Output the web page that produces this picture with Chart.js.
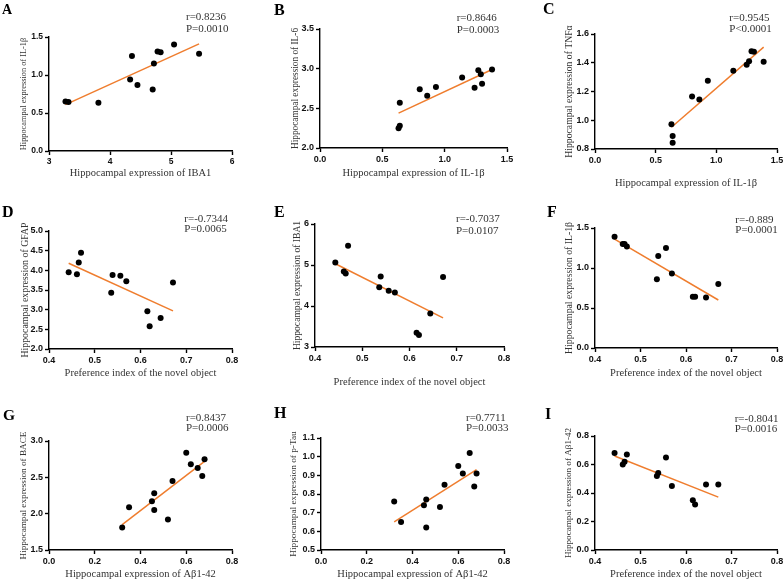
<!DOCTYPE html>
<html>
<head>
<meta charset="utf-8">
<script src="https://cdn.jsdelivr.net/npm/chart.js@4.4.1/dist/chart.umd.min.js"></script>
<style>
    html, body { margin: 0; padding: 0; background: #fff; width: 783px; height: 579px; overflow: hidden; }
    .panel { position: absolute; }
</style>
</head>
<body>
<script>
( function () {
    'use strict';

    /* ── shared x values ─────────────────────────────────────────────── */
    var prefIndex = [ 0.443, 0.461, 0.465, 0.470, 0.536, 0.539, 0.556, 0.569, 0.615, 0.620, 0.644, 0.671 ];
    var abeta     = [ 0.32, 0.35, 0.45, 0.46, 0.46, 0.52, 0.54, 0.60, 0.62, 0.65, 0.67, 0.68 ];

    /* ── A: IL-1β vs IBA1 ─────────────────────────────────────────────── */
    var aIBA1   = [ 3.27, 3.32, 3.81, 4.33, 4.36, 4.45, 4.70, 4.72, 4.78, 4.83, 5.05, 5.46 ];
    var aIL1b   = [ 0.65, 0.645, 0.636, 0.94, 1.25, 0.87, 0.81, 1.15, 1.31, 1.30, 1.40, 1.28 ];
    var aFitX   = [ 3.27, 5.46 ];
    var aFitY   = [ 0.61, 1.41 ];
    var aXTicks = [ 3, 4, 5, 6 ];
    var aYTicks = [ 0, 0.5, 1.0, 1.5 ];

    /* ── B: IL-6 vs IL-1β ─────────────────────────────────────────────── */
    var bIL1b   = [ 0.63, 0.64, 0.64, 0.80, 0.86, 0.93, 1.14, 1.24, 1.27, 1.29, 1.30, 1.38 ];
    var bIL6    = [ 2.25, 2.28, 2.57, 2.74, 2.66, 2.77, 2.89, 2.76, 2.98, 2.93, 2.81, 2.99 ];
    var bFitX   = [ 0.63, 1.38 ];
    var bFitY   = [ 2.44, 2.99 ];
    var bXTicks = [ 0, 0.5, 1.0, 1.5 ];
    var bYTicks = [ 2.0, 2.5, 3.0, 3.5 ];

    /* ── C: TNFα vs IL-1β ─────────────────────────────────────────────── */
    var cIL1b   = [ 0.63, 0.64, 0.64, 0.80, 0.86, 0.93, 1.14, 1.25, 1.27, 1.29, 1.31, 1.39 ];
    var cTNFa   = [ 0.972, 0.89, 0.844, 1.165, 1.144, 1.274, 1.344, 1.386, 1.41, 1.48, 1.477, 1.407 ];
    var cFitX   = [ 0.63, 1.39 ];
    var cFitY   = [ 0.951, 1.509 ];
    var cXTicks = [ 0, 0.5, 1.0, 1.5 ];
    var cYTicks = [ 0.8, 1.0, 1.2, 1.4, 1.6 ];

    /* ── D: GFAP vs preference index ─────────────────────────────────── */
    var dGFAP   = [ 3.95, 3.90, 4.20, 4.45, 3.43, 3.88, 3.86, 3.72, 2.96, 2.58, 2.79, 3.69 ];
    var dFitX   = [ 0.443, 0.671 ];
    var dFitY   = [ 4.18, 2.97 ];
    var dXTicks = [ 0.4, 0.5, 0.6, 0.7, 0.8 ];
    var dYTicks = [ 2.0, 2.5, 3.0, 3.5, 4.0, 4.5, 5.0 ];

    /* ── E: IBA1 vs preference index ─────────────────────────────────── */
    var eIBA1   = [ 5.06, 4.84, 4.79, 5.47, 4.46, 4.72, 4.37, 4.33, 3.35, 3.29, 3.82, 4.71 ];
    var eFitX   = [ 0.443, 0.671 ];
    var eFitY   = [ 5.03, 3.71 ];
    var eXTicks = [ 0.4, 0.5, 0.6, 0.7, 0.8 ];
    var eYTicks = [ 3, 4, 5, 6 ];

    /* ── F: IL-1β vs preference index ────────────────────────────────── */
    var fIL1b   = [ 1.39, 1.30, 1.30, 1.27, 0.86, 1.15, 1.25, 0.93, 0.64, 0.64, 0.63, 0.80 ];
    var fFitX   = [ 0.443, 0.671 ];
    var fFitY   = [ 1.36, 0.60 ];
    var fXTicks = [ 0.4, 0.5, 0.6, 0.7, 0.8 ];
    var fYTicks = [ 0, 0.5, 1.0, 1.5 ];

    /* ── G: BACE vs Aβ1-42 ───────────────────────────────────────────── */
    var gBACE   = [ 1.81, 2.09, 2.17, 2.28, 2.05, 1.92, 2.45, 2.84, 2.68, 2.63, 2.52, 2.75 ];
    var gFitX   = [ 0.32, 0.68 ];
    var gFitY   = [ 1.85, 2.72 ];
    var gXTicks = [ 0, 0.2, 0.4, 0.6, 0.8 ];
    var gYTicks = [ 1.5, 2.0, 2.5, 3.0 ];

    /* ── H: p-Tau vs Aβ1-42 ──────────────────────────────────────────── */
    var hPTau   = [ 0.76, 0.65, 0.74, 0.77, 0.62, 0.73, 0.85, 0.95, 0.91, 1.02, 0.84, 0.91 ];
    var hFitX   = [ 0.32, 0.68 ];
    var hFitY   = [ 0.651, 0.93 ];
    var hXTicks = [ 0, 0.2, 0.4, 0.6, 0.8 ];
    var hYTicks = [ 0.5, 0.6, 0.7, 0.8, 0.9, 1.0, 1.1 ];

    /* ── I: Aβ1-42 vs preference index ───────────────────────────────── */
    var iAbeta  = [ 0.68, 0.60, 0.62, 0.67, 0.52, 0.54, 0.65, 0.45, 0.35, 0.32, 0.46, 0.46 ];
    var iFitX   = [ 0.443, 0.671 ];
    var iFitY   = [ 0.66, 0.371 ];
    var iXTicks = [ 0.4, 0.5, 0.6, 0.7, 0.8 ];
    var iYTicks = [ 0, 0.2, 0.4, 0.6, 0.8 ];

    var prefTitle = 'Preference index of the novel object';

    /* area = [left, right, top, bottom] of the plot box, page coords */
    var panels = [
        { letter: 'A', col: 0, row: 0, x: aIBA1, y: aIL1b, fitX: aFitX, fitY: aFitY, xTicks: aXTicks, yTicks: aYTicks, xDec: 0, yDec: 1,
          xTitle: 'Hippocampal expression of IBA1', yTitle: 'Hippocampal expression of IL-1β', stats: [ 'r=0.8236', 'P=0.0010' ],
          area: [ 49, 232, 37, 151 ], ySize: 8.3, yGap: 25, xGap: 22, tick: 8.5,
          lx: 2, ly: 14, lsize: 14, sx: 186, sy: [ 20.4, 32.0 ] },
        { letter: 'B', col: 1, row: 0, x: bIL1b, y: bIL6, fitX: bFitX, fitY: bFitY, xTicks: bXTicks, yTicks: bYTicks, xDec: 1, yDec: 1,
          xTitle: 'Hippocampal expression of IL-1β', yTitle: 'Hippocampal expression of IL-6', stats: [ 'r=0.8646', 'P=0.0003' ],
          area: [ 320, 507, 29, 148 ], ySize: 9.3, yGap: 24, xGap: 25, tick: 9,
          lx: 274, ly: 15, lsize: 16, sx: 456.7, sy: [ 21.0, 32.7 ] },
        { letter: 'C', col: 2, row: 0, x: cIL1b, y: cTNFa, fitX: cFitX, fitY: cFitY, xTicks: cXTicks, yTicks: cYTicks, xDec: 1, yDec: 1,
          xTitle: 'Hippocampal expression of IL-1β', yTitle: 'Hippocampal expression of TNFα', stats: [ 'r=0.9545', 'P<0.0001' ],
          area: [ 595, 777, 34, 149 ], ySize: 9.7, yGap: 26, xGap: 34, tick: 9,
          lx: 543, ly: 14, lsize: 16, sx: 729.3, sy: [ 21.0, 32.0 ] },
        { letter: 'D', col: 0, row: 1, x: prefIndex, y: dGFAP, fitX: dFitX, fitY: dFitY, xTicks: dXTicks, yTicks: dYTicks, xDec: 1, yDec: 1,
          xTitle: prefTitle, yTitle: 'Hippocampal expression of GFAP', stats: [ 'r=-0.7344', 'P=0.0065' ],
          area: [ 49, 232, 231, 349 ], ySize: 9.85, yGap: 24, xGap: 24, tick: 9,
          lx: 2, ly: 217, lsize: 16, sx: 184.3, sy: [ 221.7, 231.7 ] },
        { letter: 'E', col: 1, row: 1, x: prefIndex, y: eIBA1, fitX: eFitX, fitY: eFitY, xTicks: eXTicks, yTicks: eYTicks, xDec: 1, yDec: 0,
          xTitle: prefTitle, yTitle: 'Hippocampal expression of IBA1', stats: [ 'r=-0.7037', 'P=0.0107' ],
          area: [ 315, 504, 224, 347 ], ySize: 9.6, yGap: 17.5, xGap: 35, tick: 9,
          lx: 274, ly: 217, lsize: 16, sx: 456, sy: [ 222.4, 234.0 ] },
        { letter: 'F', col: 2, row: 1, x: prefIndex, y: fIL1b, fitX: fFitX, fitY: fFitY, xTicks: fXTicks, yTicks: fYTicks, xDec: 1, yDec: 1,
          xTitle: prefTitle, yTitle: 'Hippocampal expression of IL-1β', stats: [ 'r=-0.889', 'P=0.0001' ],
          area: [ 595, 777, 228, 348 ], ySize: 9.76, yGap: 26, xGap: 25, tick: 9,
          lx: 547, ly: 217, lsize: 16, sx: 735.3, sy: [ 222.7, 232.7 ] },
        { letter: 'G', col: 0, row: 2, x: abeta, y: gBACE, fitX: gFitX, fitY: gFitY, xTicks: gXTicks, yTicks: gYTicks, xDec: 1, yDec: 1,
          xTitle: 'Hippocampal expression of Aβ1-42', yTitle: 'Hippocampal expression of BACE', stats: [ 'r=0.8437', 'P=0.0006' ],
          area: [ 49, 232, 441, 550 ], ySize: 9.2, yGap: 25, xGap: 24, tick: 9,
          lx: 3, ly: 419.5, lsize: 15.5, sx: 186, sy: [ 420.7, 431.4 ] },
        { letter: 'H', col: 1, row: 2, x: abeta, y: hPTau, fitX: hFitX, fitY: hFitY, xTicks: hXTicks, yTicks: hYTicks, xDec: 1, yDec: 1,
          xTitle: 'Hippocampal expression of Aβ1-42', yTitle: 'Hippocampal expression of p-Tau', stats: [ 'r=0.7711', 'P=0.0033' ],
          area: [ 321, 504, 438, 550 ], ySize: 9.24, yGap: 27, xGap: 24, tick: 9,
          lx: 274, ly: 418, lsize: 16, sx: 466, sy: [ 421.4, 431.4 ] },
        { letter: 'I', col: 2, row: 2, x: prefIndex, y: iAbeta, fitX: iFitX, fitY: iFitY, xTicks: iXTicks, yTicks: iYTicks, xDec: 1, yDec: 1,
          xTitle: prefTitle, yTitle: 'Hippocampal expression of Aβ1-42', stats: [ 'r=-0.8041', 'P=0.0016' ],
          area: [ 595, 777, 436, 550 ], ySize: 9.1, yGap: 26, xGap: 24, tick: 9,
          lx: 545, ly: 419, lsize: 16, sx: 734.7, sy: [ 422.0, 432.0 ] },
    ];

    var xTitleSize = 10.5;

    function points( xs, ys ) {
        return xs.map( function ( v, i ) { return { x: v, y: ys[ i ] }; } );
    }

    // panel letter + r / P text, drawn in page coords shifted to the canvas
    var labelsPlugin = {
        id: 'panelLabels',
        afterDraw: function ( chart ) {
            var p = chart.options.plugins.panelLabels;
            var ctx = chart.ctx;
            ctx.save();
            ctx.textBaseline = 'alphabetic';
            ctx.textAlign = 'left';
            ctx.fillStyle = '#000';
            ctx.font = 'bold ' + p.lsize + 'px "Liberation Serif"';
            ctx.fillText( p.letter, p.lx - p.x0, p.ly - p.y0 );
            ctx.fillStyle = '#333';
            ctx.font = '11px "Liberation Serif"';
            ctx.fillText( p.stats[ 0 ], p.sx - p.x0, p.sy[ 0 ] - p.y0 );
            ctx.fillText( p.stats[ 1 ], p.sx - p.x0, p.sy[ 1 ] - p.y0 );
            ctx.restore();
        },
    };

    panels.forEach( function ( p ) {
        var x0 = p.col * 261;
        var y0 = p.row * 193;
        var W  = p.col === 2 ? 285 : 261;
        var H  = 215;

        var holder = document.createElement( 'div' );
        holder.className = 'panel';
        holder.style.left = x0 + 'px';
        holder.style.top = y0 + 'px';
        var canvas = document.createElement( 'canvas' );
        canvas.width = W;
        canvas.height = H;
        canvas.style.width = W + 'px';
        canvas.style.height = H + 'px';
        holder.appendChild( canvas );
        document.body.appendChild( holder );

        var left   = p.area[ 0 ] - x0;
        var right  = p.area[ 1 ] - x0;
        var top    = p.area[ 2 ] - y0;
        var bottom = p.area[ 3 ] - y0;
        var yW = p.yGap + p.ySize * 1.2 / 2;
        var xH = p.xGap + xTitleSize * 1.2 / 2;

        var tickFont = { family: '"Liberation Sans", Arial, sans-serif', weight: 'bold', size: p.tick };
        var gridStyle = { display: true, drawOnChartArea: false, drawTicks: true, tickLength: 4, tickWidth: 1.4, color: '#000' };
        var borderStyle = { display: true, color: '#000', width: 1.4 };

        new Chart( canvas, {
            type: 'scatter',
            data: {
                datasets: [ {
                    data:            points( p.x, p.y ),
                    backgroundColor: '#000',
                    borderWidth:     0,
                    pointRadius:     3,
                    clip:            false,
                    order:           1,
                }, {
                    data:        points( p.fitX, p.fitY ),
                    showLine:    true,
                    borderColor: '#ef7d2e',
                    borderWidth: 1.5,
                    pointRadius: 0,
                    clip:        false,
                    order:       2,
                } ],
            },
            options: {
                responsive:       false,
                animation:        false,
                devicePixelRatio: 1,
                layout: {
                    autoPadding: false,
                    padding: { left: left - yW, right: W - right, top: top, bottom: H - bottom - xH },
                },
                plugins: {
                    legend:  { display: false },
                    tooltip: { enabled: false },
                    panelLabels: {
                        x0: x0, y0: y0, letter: p.letter, lx: p.lx, ly: p.ly, lsize: p.lsize,
                        stats: p.stats, sx: p.sx, sy: p.sy,
                    },
                },
                scales: {
                    x: {
                        type: 'linear',
                        min:  p.xTicks[ 0 ],
                        max:  p.xTicks[ p.xTicks.length - 1 ],
                        afterBuildTicks: function ( s ) { s.ticks = p.xTicks.map( function ( v ) { return { value: v }; } ); },
                        afterFit: function ( s ) { s.height = xH; },
                        border: borderStyle,
                        grid:   gridStyle,
                        ticks: {
                            font: tickFont, color: '#111', padding: 2, maxRotation: 0, autoSkip: false,
                            callback: function ( v ) { return Number( v ).toFixed( p.xDec ); },
                        },
                        title: {
                            display: true, text: p.xTitle, color: '#333', padding: 0,
                            font: { family: '"Liberation Serif", "Times New Roman", serif', size: xTitleSize, lineHeight: 1.2 },
                        },
                    },
                    y: {
                        type: 'linear',
                        min:  p.yTicks[ 0 ],
                        max:  p.yTicks[ p.yTicks.length - 1 ],
                        afterBuildTicks: function ( s ) { s.ticks = p.yTicks.map( function ( v ) { return { value: v }; } ); },
                        afterFit: function ( s ) { s.width = yW; },
                        border: borderStyle,
                        grid:   gridStyle,
                        ticks: {
                            font: tickFont, color: '#111', padding: 2, autoSkip: false,
                            callback: function ( v ) { return Number( v ).toFixed( p.yDec ); },
                        },
                        title: {
                            display: true, text: p.yTitle, color: '#333', padding: 0,
                            font: { family: '"Liberation Serif", "Times New Roman", serif', size: p.ySize, lineHeight: 1.2 },
                        },
                    },
                },
            },
            plugins: [ labelsPlugin ],
        } );
    } );

} )();
</script>
</body>
</html>
